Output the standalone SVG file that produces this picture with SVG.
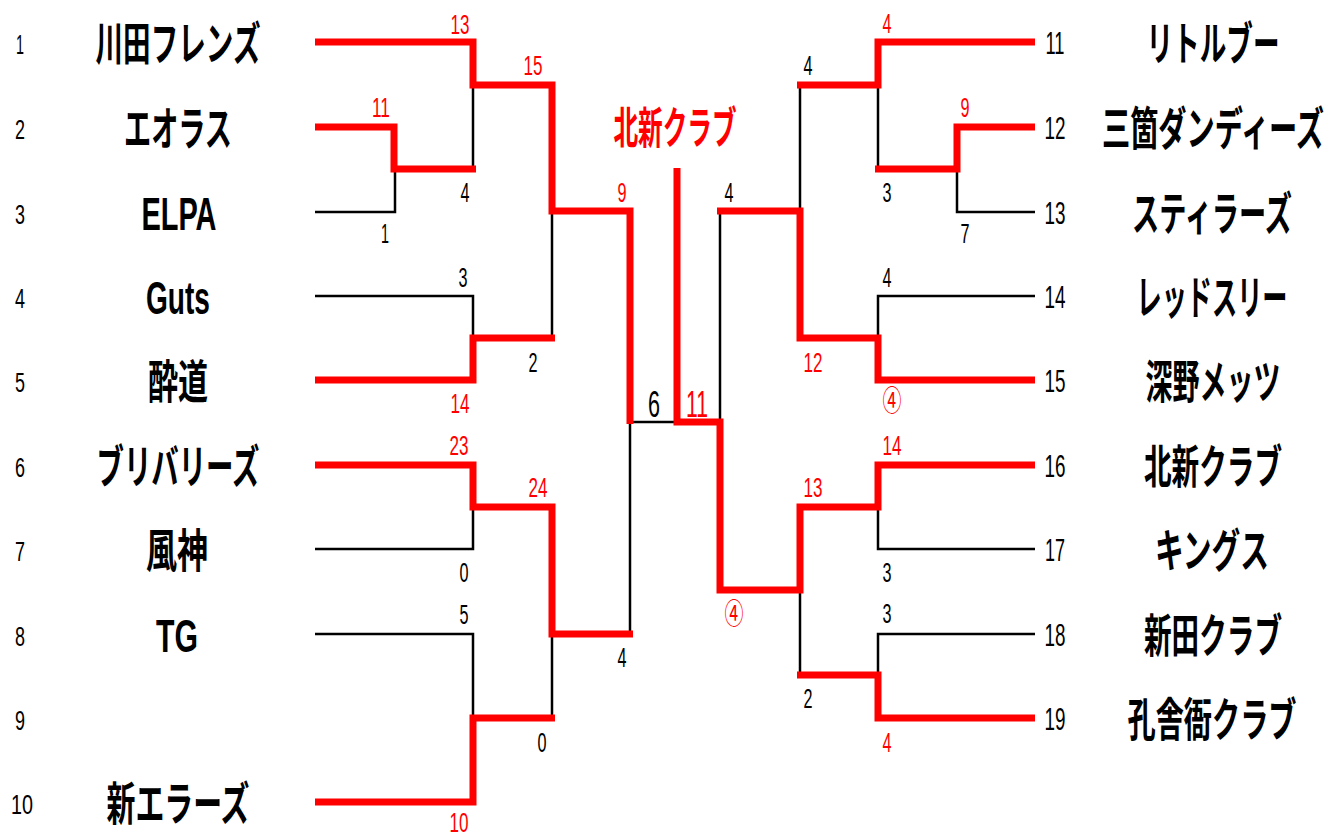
<svg xmlns="http://www.w3.org/2000/svg" width="1327" height="834" viewBox="0 0 1327 834">
<style>
text{font-family:"Liberation Sans","Noto Sans CJK JP",sans-serif;text-anchor:middle;fill:#000}
.seed{font-size:28px}
.seedR{font-size:31px}
.name{font-size:46px;font-weight:bold}
.nameR{font-size:28px;font-weight:bold}
.sc{font-size:28px}
.big{font-size:37px}
.red{fill:#FF0000}
.circ{font-family:"Noto Sans CJK JP",sans-serif;font-size:30px}
.title{font-size:44px;font-weight:bold;fill:#FF0000}
.win{fill:none;stroke:#FF0000;stroke-width:7;stroke-linejoin:miter;stroke-linecap:butt}
.lose{fill:none;stroke:#000;stroke-width:2.5}
</style>
<rect width="1327" height="834" fill="#fff"/>

<g id="connectors">
  <g id="lose-lines">
    <path class="lose" d="M315,212 H395 V169"/>
    <path class="lose" d="M473,85 V169"/>
    <path class="lose" d="M315,296 H473 V338"/>
    <path class="lose" d="M552,211 V338"/>
    <path class="lose" d="M315,549 H473 V507"/>
    <path class="lose" d="M315,634 H473 V718"/>
    <path class="lose" d="M552,634 V718"/>
    <path class="lose" d="M630,422 V634"/>
    <path class="lose" d="M630,422 H677"/>
    <path class="lose" d="M1035,212 H957 V169"/>
    <path class="lose" d="M878,85 V169"/>
    <path class="lose" d="M1035,296 H878 V338"/>
    <path class="lose" d="M800,85 V211"/>
    <path class="lose" d="M720,211 V422"/>
    <path class="lose" d="M1035,549 H878 V507"/>
    <path class="lose" d="M1035,634 H878 V675"/>
    <path class="lose" d="M800,590 V675"/>
  </g>
  <g id="win-lines">
    <path class="win" d="M315,42 H473 V85 H552 V211 H630 V424"/>
    <path class="win" d="M315,127 H394 V169 H476"/>
    <path class="win" d="M315,380 H473 V338 H555"/>
    <path class="win" d="M315,465 H473 V507 H552 V634 H633"/>
    <path class="win" d="M315,802 H473 V718 H555"/>
    <path class="win" d="M1035,42 H878 V85 H797"/>
    <path class="win" d="M1035,127 H957 V169 H875"/>
    <path class="win" d="M1035,380 H878 V338 H800 V211 H717"/>
    <path class="win" d="M1035,465 H878 V507 H800 V590 H720 V422 H677 V168"/>
    <path class="win" d="M1035,718 H878 V675 H797"/>
  </g>
</g>

<g id="title">
  <text class="title" x="675" y="144" textLength="123" lengthAdjust="spacingAndGlyphs">北新クラブ</text>
</g>

<g id="team-1"><text class="seed" x="20" y="54" textLength="8" lengthAdjust="spacingAndGlyphs">1</text><text class="name" x="178" y="60" textLength="165" lengthAdjust="spacingAndGlyphs">川田フレンズ</text></g>
<g id="team-2"><text class="seed" x="20" y="139" textLength="10" lengthAdjust="spacingAndGlyphs">2</text><text class="name" x="178" y="145" textLength="108" lengthAdjust="spacingAndGlyphs">エオラス</text></g>
<g id="team-3"><text class="seed" x="20" y="224" textLength="10" lengthAdjust="spacingAndGlyphs">3</text><text class="name" x="179" y="230" textLength="75" lengthAdjust="spacingAndGlyphs">ELPA</text></g>
<g id="team-4"><text class="seed" x="20" y="308" textLength="10" lengthAdjust="spacingAndGlyphs">4</text><text class="name" x="178" y="314" textLength="64" lengthAdjust="spacingAndGlyphs">Guts</text></g>
<g id="team-5"><text class="seed" x="20" y="392" textLength="10" lengthAdjust="spacingAndGlyphs">5</text><text class="name" x="178" y="398" textLength="60" lengthAdjust="spacingAndGlyphs">酔道</text></g>
<g id="team-6"><text class="seed" x="20" y="477" textLength="10" lengthAdjust="spacingAndGlyphs">6</text><text class="name" x="178" y="483" textLength="163" lengthAdjust="spacingAndGlyphs">ブリバリーズ</text></g>
<g id="team-7"><text class="seed" x="20" y="561" textLength="10" lengthAdjust="spacingAndGlyphs">7</text><text class="name" x="177" y="567" textLength="62" lengthAdjust="spacingAndGlyphs">風神</text></g>
<g id="team-8"><text class="seed" x="20" y="646" textLength="10" lengthAdjust="spacingAndGlyphs">8</text><text class="name" x="177" y="652" textLength="42" lengthAdjust="spacingAndGlyphs">TG</text></g>
<g id="team-9"><text class="seed" x="20" y="730" textLength="10" lengthAdjust="spacingAndGlyphs">9</text></g>
<g id="team-10"><text class="seed" x="22" y="814" textLength="22" lengthAdjust="spacingAndGlyphs">10</text><text class="name" x="178" y="820" textLength="143" lengthAdjust="spacingAndGlyphs">新エラーズ</text></g>

<g id="team-11"><text class="seedR" x="1055" y="54" textLength="19" lengthAdjust="spacingAndGlyphs">11</text><text class="nameR" transform="translate(1213,60) scale(1,1.643)" textLength="133" lengthAdjust="spacingAndGlyphs">リトルブー</text></g>
<g id="team-12"><text class="seedR" x="1055" y="139" textLength="21" lengthAdjust="spacingAndGlyphs">12</text><text class="nameR" transform="translate(1213,145) scale(1,1.643)" textLength="222" lengthAdjust="spacingAndGlyphs">三箇ダンディーズ</text></g>
<g id="team-13"><text class="seedR" x="1055" y="224" textLength="21" lengthAdjust="spacingAndGlyphs">13</text><text class="nameR" transform="translate(1212,230) scale(1,1.643)" textLength="160" lengthAdjust="spacingAndGlyphs">スティラーズ</text></g>
<g id="team-14"><text class="seedR" x="1055" y="308" textLength="21" lengthAdjust="spacingAndGlyphs">14</text><text class="nameR" transform="translate(1212,314) scale(1,1.643)" textLength="151" lengthAdjust="spacingAndGlyphs">レッドスリー</text></g>
<g id="team-15"><text class="seedR" x="1055" y="392" textLength="21" lengthAdjust="spacingAndGlyphs">15</text><text class="nameR" transform="translate(1213,398) scale(1,1.643)" textLength="135" lengthAdjust="spacingAndGlyphs">深野メッツ</text></g>
<g id="team-16"><text class="seedR" x="1055" y="477" textLength="21" lengthAdjust="spacingAndGlyphs">16</text><text class="nameR" transform="translate(1213,483) scale(1,1.643)" textLength="138" lengthAdjust="spacingAndGlyphs">北新クラブ</text></g>
<g id="team-17"><text class="seedR" x="1055" y="561" textLength="20" lengthAdjust="spacingAndGlyphs">17</text><text class="nameR" transform="translate(1212,567) scale(1,1.643)" textLength="114" lengthAdjust="spacingAndGlyphs">キングス</text></g>
<g id="team-18"><text class="seedR" x="1055" y="646" textLength="21" lengthAdjust="spacingAndGlyphs">18</text><text class="nameR" transform="translate(1213,652) scale(1,1.643)" textLength="138" lengthAdjust="spacingAndGlyphs">新田クラブ</text></g>
<g id="team-19"><text class="seedR" x="1055" y="730" textLength="21" lengthAdjust="spacingAndGlyphs">19</text><text class="nameR" transform="translate(1212,736) scale(1,1.643)" textLength="169" lengthAdjust="spacingAndGlyphs">孔舎衙クラブ</text></g>

<g id="scores">
  <text class="sc red" x="460" y="34" textLength="19" lengthAdjust="spacingAndGlyphs">13</text>
  <text class="sc red" x="381" y="117" textLength="18" lengthAdjust="spacingAndGlyphs">11</text>
  <text class="sc" x="465" y="202" textLength="9" lengthAdjust="spacingAndGlyphs">4</text>
  <text class="sc" x="385" y="243" textLength="8" lengthAdjust="spacingAndGlyphs">1</text>
  <text class="sc red" x="533" y="75" textLength="19" lengthAdjust="spacingAndGlyphs">15</text>
  <text class="sc red" x="622" y="202" textLength="9" lengthAdjust="spacingAndGlyphs">9</text>
  <text class="sc" x="463" y="287" textLength="9" lengthAdjust="spacingAndGlyphs">3</text>
  <text class="sc" x="533" y="372" textLength="9" lengthAdjust="spacingAndGlyphs">2</text>
  <text class="sc red" x="460" y="413" textLength="19" lengthAdjust="spacingAndGlyphs">14</text>
  <text class="sc red" x="459" y="455" textLength="19" lengthAdjust="spacingAndGlyphs">23</text>
  <text class="sc red" x="538" y="497" textLength="19" lengthAdjust="spacingAndGlyphs">24</text>
  <text class="sc" x="464" y="582" textLength="9" lengthAdjust="spacingAndGlyphs">0</text>
  <text class="sc" x="464" y="624" textLength="9" lengthAdjust="spacingAndGlyphs">5</text>
  <text class="sc" x="622" y="667" textLength="9" lengthAdjust="spacingAndGlyphs">4</text>
  <text class="sc" x="542" y="752" textLength="9" lengthAdjust="spacingAndGlyphs">0</text>
  <text class="sc red" x="459" y="832" textLength="19" lengthAdjust="spacingAndGlyphs">10</text>
  <text class="sc big" x="654" y="417" textLength="12" lengthAdjust="spacingAndGlyphs">6</text>
  <text class="sc big red" x="697" y="417" textLength="22" lengthAdjust="spacingAndGlyphs">11</text>
  <text class="sc red" x="887" y="33" textLength="9" lengthAdjust="spacingAndGlyphs">4</text>
  <text class="sc" x="808" y="75" textLength="9" lengthAdjust="spacingAndGlyphs">4</text>
  <text class="sc red" x="965" y="117" textLength="9" lengthAdjust="spacingAndGlyphs">9</text>
  <text class="sc" x="887" y="202" textLength="9" lengthAdjust="spacingAndGlyphs">3</text>
  <text class="sc" x="729" y="202" textLength="9" lengthAdjust="spacingAndGlyphs">4</text>
  <text class="sc" x="965" y="243" textLength="9" lengthAdjust="spacingAndGlyphs">7</text>
  <text class="sc" x="887" y="287" textLength="9" lengthAdjust="spacingAndGlyphs">4</text>
  <text class="sc red" x="813" y="372" textLength="19" lengthAdjust="spacingAndGlyphs">12</text>
  <text class="circ red" x="892" y="411" textLength="19" lengthAdjust="spacingAndGlyphs">④</text>
  <text class="sc red" x="892" y="455" textLength="19" lengthAdjust="spacingAndGlyphs">14</text>
  <text class="sc red" x="813" y="497" textLength="19" lengthAdjust="spacingAndGlyphs">13</text>
  <text class="sc" x="887" y="582" textLength="9" lengthAdjust="spacingAndGlyphs">3</text>
  <text class="circ red" x="734" y="624" textLength="19" lengthAdjust="spacingAndGlyphs">④</text>
  <text class="sc" x="887" y="623" textLength="9" lengthAdjust="spacingAndGlyphs">3</text>
  <text class="sc" x="808" y="708" textLength="9" lengthAdjust="spacingAndGlyphs">2</text>
  <text class="sc red" x="887" y="752" textLength="9" lengthAdjust="spacingAndGlyphs">4</text>
</g>
</svg>
